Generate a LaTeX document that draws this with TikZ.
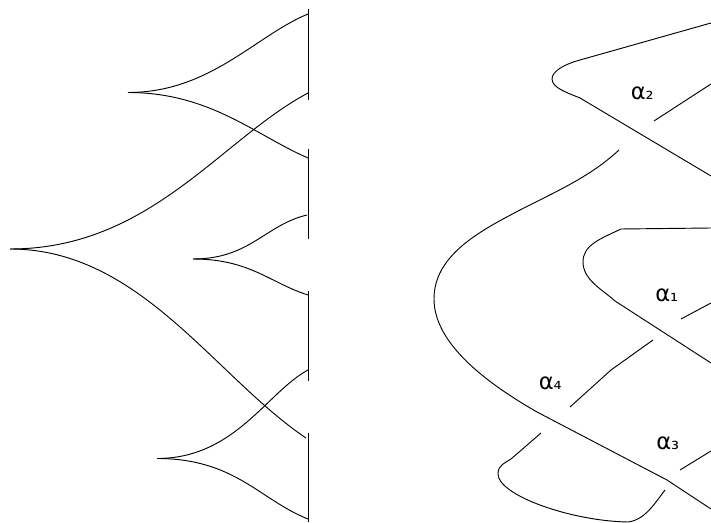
\documentclass[tikz,border=0pt]{standalone}
\usepackage{fontspec}
\newfontfamily\alphafont{DejaVu Sans}
\newcommand{\crossindex}[1]{α{\fontsize{15}{15}\selectfont #1}}
\tikzset{
  strand/.style={line width=0.7pt},
  wall/.style={line width=0.95pt},
  crossing/.style={font=\alphafont\fontsize{17}{17}\selectfont,inner sep=0pt,anchor=base west}
}
\begin{document}
\begin{tikzpicture}[x=0.75pt,y=-0.75pt]
  \useasboundingbox (0,0) rectangle (711,523);

  \coordinate (Wall1top) at (308.5,9);
  \coordinate (Wall1bot) at (308.5,100);
  \coordinate (Wall2top) at (308.5,149);
  \coordinate (Wall2bot) at (308.5,239);
  \coordinate (Wall3top) at (308.5,291);
  \coordinate (Wall3bot) at (308.5,381);
  \coordinate (Wall4top) at (308.5,433);
  \coordinate (Wall4bot) at (308.5,522);

  \coordinate (CuspA) at (128,92.5);
  \coordinate (CuspB) at (10,249);
  \coordinate (CuspC) at (193,259);
  \coordinate (CuspD) at (157,458.5);

  \coordinate (EndA1) at (308,14);
  \coordinate (EndA2) at (308,158);
  \coordinate (EndB1) at (308,93);
  \coordinate (EndB2) at (306,438);
  \coordinate (EndC1) at (307,215);
  \coordinate (EndC2) at (308,295);
  \coordinate (EndD1) at (308,370);
  \coordinate (EndD2) at (308,519);

  \draw[wall] (Wall1top) -- (Wall1bot);
  \draw[wall] (Wall2top) -- (Wall2bot);
  \draw[wall] (Wall3top) -- (Wall3bot);
  \draw[wall] (Wall4top) -- (Wall4bot);

  \draw[strand] (CuspA) .. controls (210,92.5) and (255,36) .. (EndA1);
  \draw[strand] (CuspA) .. controls (210,92.5) and (255,135) .. (EndA2);
  \draw[strand] (CuspB) .. controls (150,249) and (220,140) .. (EndB1);
  \draw[strand] (CuspB) .. controls (140,249) and (214,376) .. (EndB2);
  \draw[strand] (CuspC) .. controls (250,259) and (265,225) .. (EndC1);
  \draw[strand] (CuspC) .. controls (250,259) and (270,283) .. (EndC2);
  \draw[strand] (CuspD) .. controls (235,458.5) and (267,392) .. (EndD1);
  \draw[strand] (CuspD) .. controls (235,458.5) and (260,500) .. (EndD2);

  \coordinate (TopIn) at (711,23);
  \coordinate (TopOut) at (711,176);
  \coordinate (InnerIn) at (711,228);
  \coordinate (InnerOut) at (711,363);
  \coordinate (OuterStart) at (619,150);
  \coordinate (OuterEnd) at (711,509);
  \coordinate (TwoStart) at (711,84);
  \coordinate (TwoEnd) at (654,121);
  \coordinate (OneStart) at (711,303);
  \coordinate (OneEnd) at (681,319);
  \coordinate (ThreeStart) at (711,451);
  \coordinate (ThreeEnd) at (680,470);
  \coordinate (FourStart) at (653,340);
  \coordinate (FourMid) at (611,370);
  \coordinate (FourEnd) at (570,407);
  \coordinate (LoopStart) at (541,433);
  \coordinate (LoopEnd) at (665,490);

  \draw[strand] (TopIn) -- (580,60) .. controls (565,64) and (552,71) .. (552,79)
    .. controls (552,88) and (568,93) .. (580,98) -- (TopOut);
  \draw[strand] (InnerIn) -- (621,229) .. controls (600,239) and (583,245) .. (583,262)
    .. controls (583,280) and (603,290) .. (615,301) -- (InnerOut);
  \draw[strand] (OuterStart) .. controls (590,177) and (555,192) .. (520,210)
    .. controls (480,231) and (434,255) .. (434,299)
    .. controls (434,345) and (490,385) .. (537,412) -- (667,480) -- (OuterEnd);
  \draw[strand] (LoopStart) -- (511,459) .. controls (505,463) and (498,465) .. (498,474)
    .. controls (498,495) and (570,521) .. (628,522)
    .. controls (645,520) and (655,503) .. (LoopEnd);
  \draw[strand] (TwoStart) -- (TwoEnd);
  \draw[strand] (OneStart) -- (OneEnd);
  \draw[strand] (ThreeStart) -- (ThreeEnd);
  \draw[strand] (FourStart) -- (FourMid) -- (FourEnd);

  \node[crossing] (alpha1) at (655,302) {\crossindex{₁}};
  \node[crossing] (alpha2) at (630.5,100) {\crossindex{₂}};
  \node[crossing] (alpha3) at (656,450) {\crossindex{₃}};
  \node[crossing] (alpha4) at (538.5,390) {\crossindex{₄}};
\end{tikzpicture}
\end{document}
